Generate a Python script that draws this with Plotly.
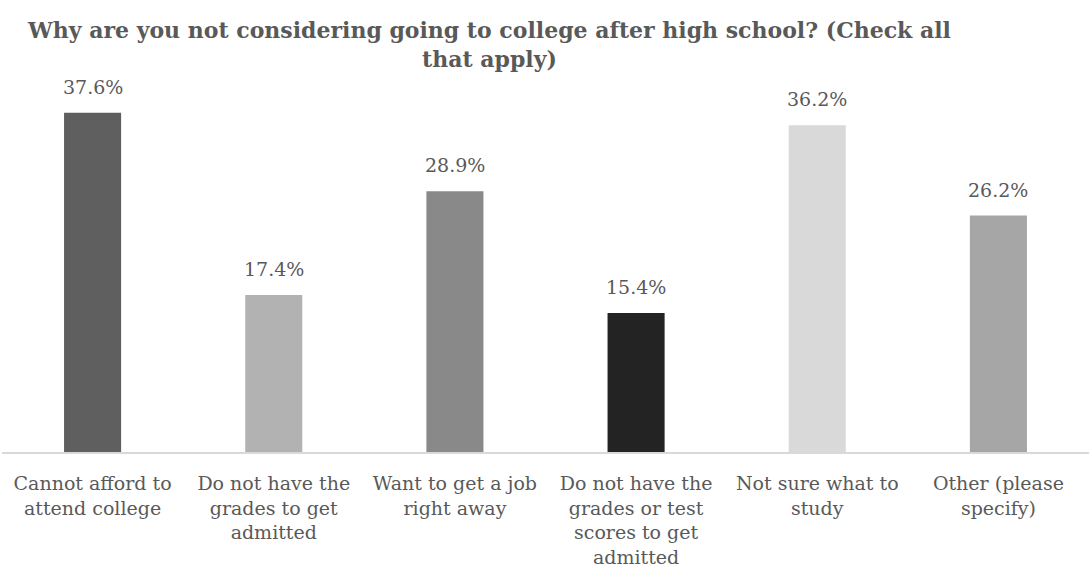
import plotly.graph_objects as go

categories = [
    "Cannot afford to<br>attend college",
    "Do not have the<br>grades to get<br>admitted",
    "Want to get a job<br>right away",
    "Do not have the<br>grades or test<br>scores to get<br>admitted",
    "Not sure what to<br>study",
    "Other (please<br>specify)",
]
values = [37.6, 17.4, 28.9, 15.4, 36.2, 26.2]
bar_colors = ["#5f5f5f", "#b2b2b2", "#898989", "#232323", "#d9d9d9", "#a6a6a6"]

serif = "DejaVu Serif"
text_color = "#595959"

fig = go.Figure(
    go.Bar(
        x=categories,
        y=values,
        marker=dict(color=bar_colors, line=dict(width=0)),
        hoverinfo="skip",
    )
)

# value labels above each bar
for cat, val in zip(categories, values):
    fig.add_annotation(
        x=cat, y=val, text=f"{val:.1f}%",
        showarrow=False, yanchor="bottom", yshift=13,
        font=dict(family=serif, size=19, color=text_color),
    )

# chart title
fig.add_annotation(
    text="<b>Why are you not considering going to college after high school? (Check all<br>that apply)</b>",
    xref="paper", yref="paper", x=0.448, y=1, yshift=76,
    xanchor="center", yanchor="top", showarrow=False, align="center",
    font=dict(family=serif, size=22, color=text_color),
)

fig.update_layout(
    width=1089, height=581,
    margin=dict(l=2, r=0, t=91, b=129),
    paper_bgcolor="white", plot_bgcolor="white",
    bargap=0.685,
    showlegend=False,
)
fig.update_xaxes(
    showgrid=False, showline=True, linecolor="#d9d9d9", linewidth=2,
    ticks="", tickfont=dict(family=serif, size=19, color=text_color),
    ticklabelstandoff=13,
)
fig.update_yaxes(range=[0, 40], visible=False, showgrid=False)

fig.write_html("out.html")
